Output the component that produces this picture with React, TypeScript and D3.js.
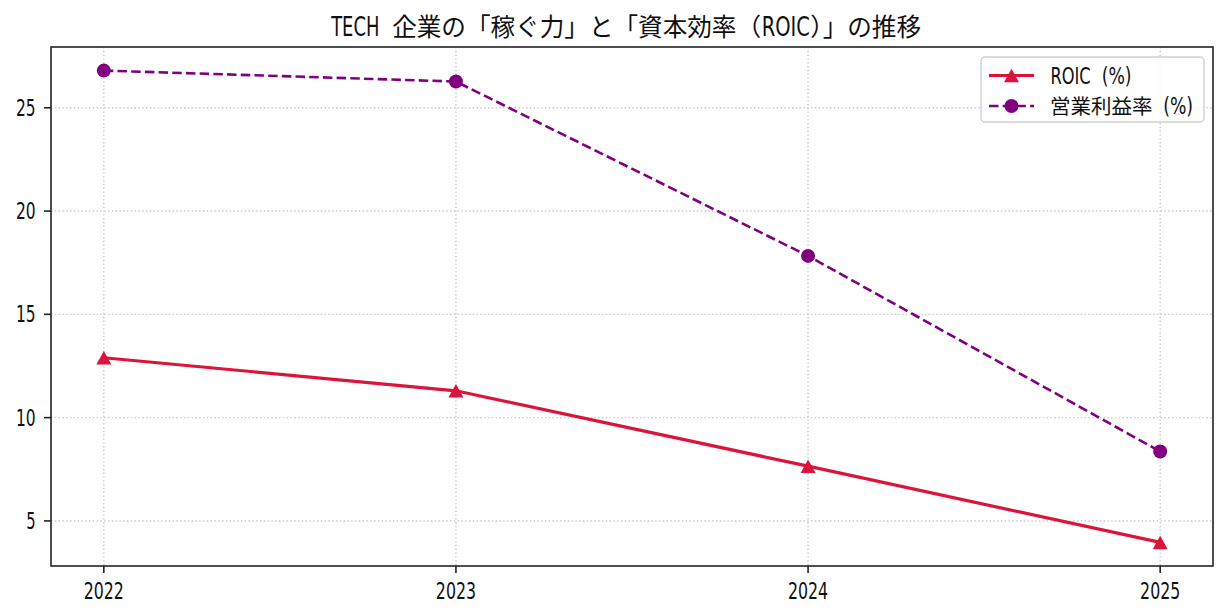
import { useEffect, useRef } from "react";
import * as d3 from "d3";

const years = ["2022", "2023", "2024", "2025"];
const roic = [12.9, 11.3, 7.65, 3.96];
const opMargin = [26.8, 26.27, 17.83, 8.36];
const yTicks = [5, 10, 15, 20, 25];

const TITLE = "TECH 企業の「稼ぐ力」と「資本効率（ROIC）」の推移";
const LEGEND = ["ROIC (%)", "営業利益率 (%)"];

const CJK_FONT = "'Noto Sans CJK JP', sans-serif";
const LATIN_FONT = "'DejaVu Sans', sans-serif";

type Sel = d3.Selection<SVGGElement, unknown, null, undefined>;

// Half-width glyphs take 0.5em, full-width 1em, like a Japanese gothic font.
function isHalf(ch: string) {
  return ch.charCodeAt(0) < 0x2000;
}

function textWidth(str: string, em: number) {
  let w = 0;
  for (const ch of str) w += isHalf(ch) ? em / 2 : em;
  return w;
}

function drawText(
  parent: Sel,
  str: string,
  x: number,
  y: number,
  em: number,
  anchor: "start" | "middle" | "end" = "start"
) {
  const total = textWidth(str, em);
  let cx = anchor === "start" ? x : anchor === "middle" ? x - total / 2 : x - total;
  const g = parent.append("g").attr("fill", "#111");
  // split into runs of the same width class, spaces just advance
  const runs: { s: string; half: boolean }[] = [];
  for (const ch of str) {
    const half = isHalf(ch);
    const last = runs[runs.length - 1];
    if (ch === " " || !last || last.half !== half || last.s === " ") runs.push({ s: ch, half });
    else last.s += ch;
  }
  for (const r of runs) {
    const w = textWidth(r.s, em);
    if (r.s.trim() !== "") {
      if (r.half) {
        // narrow latin: squeeze a regular face into half-width cells
        const t = g
          .append("text")
          .style("font-family", LATIN_FONT)
          .style("font-size", `${em * 1.08}px`)
          .text(r.s);
        const natural = (t.node() as SVGTextElement).getComputedTextLength() || w;
        const target = w - em * 0.04;
        t.attr("transform", `translate(${cx + em * 0.02},${y}) scale(${target / natural},1)`);
      } else {
        g.append("text")
          .attr("x", cx)
          .attr("y", y)
          .style("font-family", CJK_FONT)
          .style("font-size", `${em}px`)
          .text(r.s);
      }
    }
    cx += w;
  }
  return g;
}

// triangle marker, bounding box centred on the point
function triangle(w: number, h: number) {
  return `M0,${-h / 2}L${w / 2},${h / 2}L${-w / 2},${h / 2}Z`;
}

export default function App() {
  const ref = useRef<SVGSVGElement>(null);

  useEffect(() => {
    const width = 1228;
    const height = 616;
    const m = { top: 47, right: 15, bottom: 50, left: 51 };
    const em = 20.5;

    const svg = d3.select(ref.current);
    svg.selectAll("*").remove();

    const x = d3
      .scaleLinear()
      .domain([-0.15, years.length - 1 + 0.15])
      .range([m.left, width - m.right]);

    const all = [...roic, ...opMargin];
    const lo = d3.min(all)!;
    const hi = d3.max(all)!;
    const pad = (hi - lo) * 0.05;
    const y = d3
      .scaleLinear()
      .domain([lo - pad, hi + pad])
      .range([height - m.bottom, m.top]);

    const g = svg.append("g") as unknown as Sel;

    const gridStyle = (s: d3.Selection<any, any, any, any>) =>
      s
        .attr("stroke", "#c8c8c8")
        .attr("stroke-width", 1.4)
        .attr("stroke-dasharray", "1.4,2.4");

    g.append("g")
      .selectAll("line")
      .data(yTicks)
      .join("line")
      .attr("x1", m.left)
      .attr("x2", width - m.right)
      .attr("y1", (d) => y(d))
      .attr("y2", (d) => y(d))
      .call(gridStyle);

    g.append("g")
      .selectAll("line")
      .data(years)
      .join("line")
      .attr("x1", (_, i) => x(i))
      .attr("x2", (_, i) => x(i))
      .attr("y1", m.top)
      .attr("y2", height - m.bottom)
      .call(gridStyle);

    // ticks
    const tickLen = 7;
    g.append("g")
      .selectAll("line")
      .data(years)
      .join("line")
      .attr("x1", (_, i) => x(i))
      .attr("x2", (_, i) => x(i))
      .attr("y1", height - m.bottom)
      .attr("y2", height - m.bottom + tickLen)
      .attr("stroke", "#222")
      .attr("stroke-width", 1.6);
    g.append("g")
      .selectAll("line")
      .data(yTicks)
      .join("line")
      .attr("x1", m.left - tickLen)
      .attr("x2", m.left)
      .attr("y1", (d) => y(d))
      .attr("y2", (d) => y(d))
      .attr("stroke", "#222")
      .attr("stroke-width", 1.6);

    years.forEach((yr, i) => drawText(g, yr, x(i), height - m.bottom + 33, em, "middle"));
    yTicks.forEach((v) => drawText(g, String(v), m.left - 15, y(v) + 8, em, "end"));

    g.append("rect")
      .attr("x", m.left)
      .attr("y", m.top)
      .attr("width", width - m.left - m.right)
      .attr("height", height - m.top - m.bottom)
      .attr("fill", "none")
      .attr("stroke", "#222")
      .attr("stroke-width", 1.6);

    const line = d3
      .line<number>()
      .x((_, i) => x(i))
      .y((d) => y(d));

    // operating margin
    g.append("path")
      .datum(opMargin)
      .attr("d", line)
      .attr("fill", "none")
      .attr("stroke", "purple")
      .attr("stroke-width", 2.6)
      .attr("stroke-dasharray", "9.5,4.2");
    g.append("g")
      .selectAll("circle")
      .data(opMargin)
      .join("circle")
      .attr("cx", (_, i) => x(i))
      .attr("cy", (d) => y(d))
      .attr("r", 7)
      .attr("fill", "purple");

    // ROIC
    g.append("path")
      .datum(roic)
      .attr("d", line)
      .attr("fill", "none")
      .attr("stroke", "crimson")
      .attr("stroke-width", 3.2);
    g.append("g")
      .selectAll("path")
      .data(roic)
      .join("path")
      .attr("d", triangle(15, 13.5))
      .attr("transform", (d, i) => `translate(${x(i)},${y(d)})`)
      .attr("fill", "crimson");

    // title
    drawText(g, TITLE, (m.left + width - m.right) / 2, 35.5, 24.6, "middle");

    // legend
    const lg = g.append("g").attr("transform", "translate(981,57)") as unknown as Sel;
    lg.append("rect")
      .attr("width", 223)
      .attr("height", 65)
      .attr("rx", 4)
      .attr("fill", "white")
      .attr("fill-opacity", 0.8)
      .attr("stroke", "#d0d0d0")
      .attr("stroke-width", 1.4);

    const styles = [
      { color: "crimson", dash: null, w: 3.2 },
      { color: "purple", dash: "9.5,4.2", w: 2.6 },
    ];
    LEGEND.forEach((label, k) => {
      const st = styles[k];
      const cy = 18.5 + k * 30.5;
      const row = lg.append("g").attr("transform", `translate(0,${cy})`) as unknown as Sel;
      row
        .append("line")
        .attr("x1", 8)
        .attr("x2", 53)
        .attr("stroke", st.color)
        .attr("stroke-width", st.w)
        .attr("stroke-dasharray", st.dash);
      if (k === 0) {
        row.append("path").attr("d", triangle(15, 13.5)).attr("transform", "translate(30.5,0)").attr("fill", st.color);
      } else {
        row.append("circle").attr("cx", 30.5).attr("r", 7).attr("fill", st.color);
      }
      drawText(row, label, 69, 8, em, "start");
    });
  }, []);

  return (
    <svg
      ref={ref}
      width={1228}
      height={616}
      style={{ position: "absolute", left: 0, top: 0, background: "white" }}
    />
  );
}
